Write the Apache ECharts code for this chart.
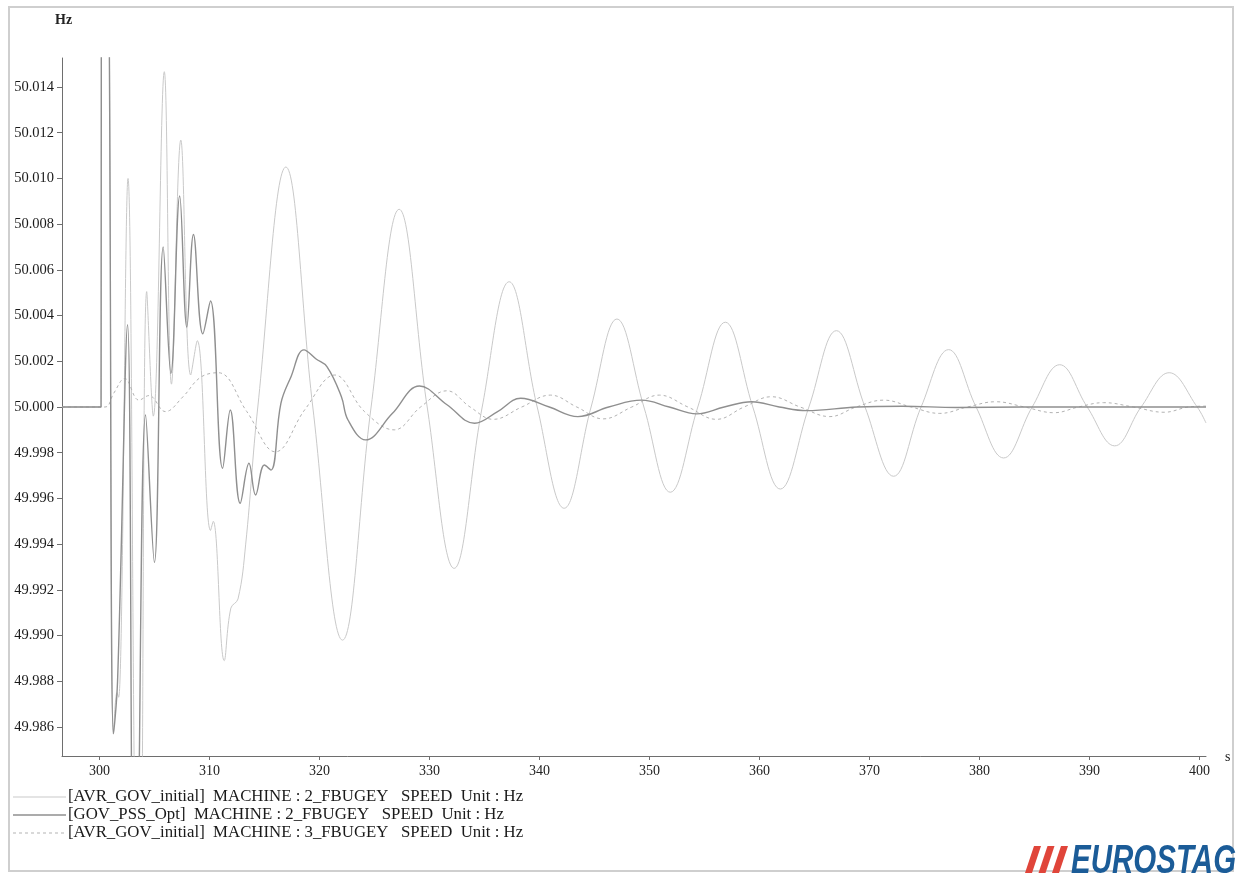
<!DOCTYPE html>
<html><head><meta charset="utf-8">
<script src="https://cdn.jsdelivr.net/npm/echarts@6/dist/echarts.min.js"></script>
<style>html,body{margin:0;padding:0;background:#fff}#c{width:1241px;height:873px}</style>
</head><body><div id="c"></div>
<script>
const xTicks = [300,310,320,330,340,350,360,370,380,390,400];
const yTicks = [49.986,49.988,49.990,49.992,49.994,49.996,49.998,50.000,50.002,50.004,50.006,50.008,50.010,50.012,50.014];
const legendLabels = [
  '[AVR_GOV_initial]  MACHINE : 2_FBUGEY   SPEED  Unit : Hz',
  '[GOV_PSS_Opt]  MACHINE : 2_FBUGEY   SPEED  Unit : Hz',
  '[AVR_GOV_initial]  MACHINE : 3_FBUGEY   SPEED  Unit : Hz'
];
// [AVR_GOV_initial] MACHINE 2 speed (Hz) vs time (s)
const avrGovM2 = [
  [296.6,50.0],[300.15,50.0],[300.2,50.03],[300.75,50.025],[301.28,49.9857],[301.6,49.9875],[301.75,49.9873],
  [302.6,50.0100],[303.45,49.978],[303.7,49.978],[304.3,50.00505],[304.9,49.9996],[305.9,50.01467],
  [306.55,50.0010],[307.4,50.01168],[308.3,50.0014],[308.9,50.0029],[310.1,49.9946],[310.35,49.9950],
  [311.35,49.9889],[311.95,49.9912],[312.6,49.9916],[313.3,49.9940],[314.4,50.0],[316.95,50.0105],
  [319.4,50.0],[322.1,49.9898],[324.7,50.0],[327.25,50.00865],[329.8,50.0],[332.25,49.99294],
  [334.8,50.0],[337.25,50.00548],[339.8,50.0],[342.25,49.99557],[344.7,50.0],[347.05,50.00385],
  [349.5,50.0],[351.9,49.99627],[354.4,50.0],[356.9,50.00371],[359.4,50.0],[361.9,49.99641],
  [364.5,50.0],[367.0,50.00334],[369.6,50.0],[372.2,49.99697],[374.7,50.0],[377.2,50.00251],
  [379.7,50.0],[382.2,49.99777],[384.8,50.0],[387.3,50.00185],[389.8,50.0],[392.3,49.99830],
  [394.7,50.0],[397.25,50.0015],[399.8,50.0],[400.6,49.9993]
];
// [GOV_PSS_Opt] MACHINE 2 speed
const govPssM2 = [
  [296.6,50.0],[300.15,50.0],[300.2,50.03],[300.75,50.025],[301.28,49.9857],[301.65,49.9880],
  [302.56,50.0036],[303.1,49.978],[303.3,49.978],[304.2,49.99965],[305.0,49.9932],[305.8,50.0070],
  [306.5,50.00147],[307.3,50.00923],[307.95,50.0035],[308.55,50.00755],[309.4,50.0032],[310.1,50.00464],
  [311.2,49.99732],[311.9,49.99987],[312.8,49.99579],[313.6,49.99754],[314.2,49.99615],[315.0,49.99746],
  [315.6,49.99724],[316.5,50.00016],[317.4,50.0013],[318.6,50.0025],[319.7,50.0021],[320.7,50.00176],
  [322.0,50.00045],[322.6,49.99943],[324.2,49.99856],[326.6,49.9997],[329.1,50.00092],[331.6,50.0001],
  [334.1,49.99929],[336.2,49.9998],[338.3,50.00038],[340.9,50.0],[343.5,49.99958],[346.3,50.0],
  [349.3,50.0003],[351.8,50.0],[354.3,49.9997],[356.8,50.0],[359.3,50.00023],[361.8,50.0],
  [364.3,49.99984],[368.9,50.0],[373,50.00003],[378,49.99998],[384,50.0],[390,50.0],[400.6,50.0]
];
// [AVR_GOV_initial] MACHINE 3 speed
const avrGovM3 = [
  [296.6,50.0],[300.5,50.0],[301.3,50.0006],[302.3,50.00125],[303.6,50.0003],[304.5,50.0005],
  [306.0,49.9998],[307.6,50.00045],[309.2,50.0013],[310.8,50.0015],[313.4,49.9998],[316.0,49.99804],
  [318.7,49.9999],[321.4,50.0014],[324.1,49.9998],[326.8,49.9990],[329.2,50.0],[331.6,50.00071],
  [333.7,50.0],[335.8,49.99946],[338.4,50.0],[341.0,50.00052],[343.4,50.0],[345.8,49.99948],
  [348.4,50.0],[350.9,50.00052],[353.5,50.0],[356.1,49.99946],[358.6,50.0],[361.1,50.00045],
  [363.7,50.0],[366.4,49.99958],[368.8,50.0],[371.3,50.0003],[373.8,50.0],[376.4,49.99972],
  [378.9,50.0],[381.5,50.00023],[384.1,50.0],[386.8,49.99975],[389.0,50.0],[391.3,50.00019],
  [394.0,50.0],[396.8,49.99977],[399.0,50.0],[400.6,50.00004]
];

const colors = ['#c9c9c9', '#8f8f8f', '#b3b3b3'];
const serif = '"Liberation Serif", "Times New Roman", serif';
const chart = echarts.init(document.getElementById('c'), null, {renderer: 'canvas'});

const legendGraphics = [];
const rowsY = [797, 815, 833];
legendLabels.forEach((t, i) => {
  legendGraphics.push({
    type: 'line', shape: {x1: 13, y1: rowsY[i], x2: 66, y2: rowsY[i]},
    style: {stroke: colors[i], lineWidth: i === 1 ? 1.5 : 1, lineDash: i === 2 ? [3, 3] : null}
  });
  legendGraphics.push({
    type: 'text', x: 68, y: rowsY[i],
    style: {text: t, font: '16.8px ' + serif, fill: '#1a1a1a', verticalAlign: 'middle'}
  });
});

const bars = [1025, 1038.5, 1052].map(x => ({
  type: 'polygon',
  shape: {points: [[x, 873], [x + 7, 873], [x + 16, 846], [x + 9, 846]]},
  style: {fill: '#e0453a'}
}));

chart.setOption({
  animation: false,
  backgroundColor: '#fff',
  grid: {left: 62, top: 58, width: 1144, height: 698, containLabel: false},
  xAxis: {
    type: 'value', min: 296.6, max: 400.6,
    axisLine: {show: true, lineStyle: {color: '#6e6e6e', width: 1}},
    axisTick: {show: true, customValues: xTicks, length: 4, lineStyle: {color: '#6e6e6e'}},
    axisLabel: {customValues: xTicks, fontFamily: serif, fontSize: 14, color: '#222', margin: 8},
    splitLine: {show: false}
  },
  yAxis: {
    type: 'value', min: 49.98473, max: 50.01527,
    axisLine: {show: true, lineStyle: {color: '#6e6e6e', width: 1}},
    axisTick: {show: true, customValues: yTicks, length: 5, lineStyle: {color: '#6e6e6e'}},
    axisLabel: {customValues: yTicks, fontFamily: serif, fontSize: 14.5, color: '#1a1a1a', margin: 8,
      formatter: v => v.toFixed(3)},
    splitLine: {show: false}
  },
  series: [
    {type: 'line', name: legendLabels[0], data: avrGovM2, showSymbol: false, smooth: 0.4,
     lineStyle: {color: colors[0], width: 1}, clip: true, z: 2},
    {type: 'line', name: legendLabels[2], data: avrGovM3, showSymbol: false, smooth: 0.4,
     lineStyle: {color: colors[2], width: 1, type: [3, 3]}, clip: true, z: 3},
    {type: 'line', name: legendLabels[1], data: govPssM2, showSymbol: false, smooth: 0.4,
     lineStyle: {color: colors[1], width: 1.4}, clip: true, z: 4}
  ],
  graphic: [
    {type: 'rect', shape: {x: 9, y: 7, width: 1224, height: 864}, style: {fill: null, stroke: '#cfcfcf', lineWidth: 2}, silent: true},
    {type: 'text', x: 55, y: 20, style: {text: 'Hz', font: 'bold 14px ' + serif, fill: '#222', verticalAlign: 'middle'}},
    {type: 'text', x: 1225, y: 757, style: {text: 's', font: '14px ' + serif, fill: '#222', verticalAlign: 'middle'}},
    ...legendGraphics,
    ...bars,
    {type: 'text', x: 1071, y: 862, scaleX: 0.72, scaleY: 1, originX: 0, originY: 0,
     style: {text: 'EUROSTAG', font: 'italic bold 41px "Liberation Sans", Arial, sans-serif', fill: '#1b5c98', verticalAlign: 'middle'}}
  ]
});
</script>
</body></html>
